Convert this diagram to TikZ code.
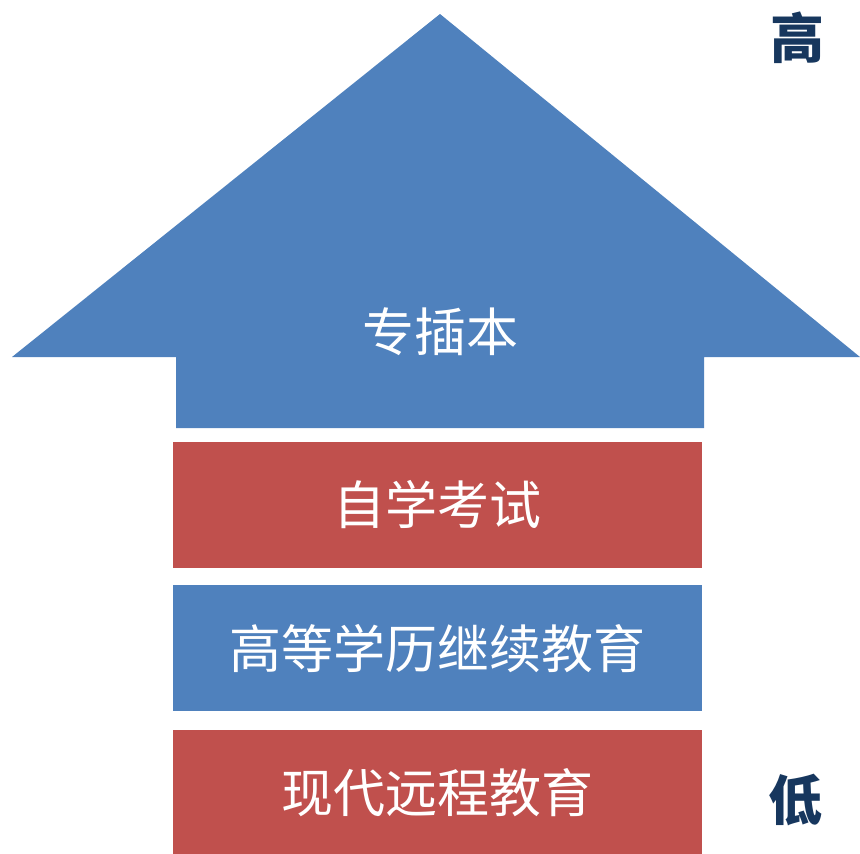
\documentclass[tikz,border=0pt]{standalone}
\usepackage{fontspec}
\usepackage{xcolor}
\usetikzlibrary{positioning}
\newfontfamily\cjk{Noto Sans CJK SC}
\definecolor{levelblue}{HTML}{4F81BD}
\definecolor{levelred}{HTML}{C0504D}
\definecolor{levelnavy}{HTML}{17375E}

\begin{document}
\begin{tikzpicture}[
    x=1pt, y=-1pt,
    node distance=17pt,
    every node/.style={font=\cjk\fontsize{52}{60}\selectfont},
    box/.style={rectangle, minimum width=529pt, minimum height=126pt, inner sep=0pt, align=center, text=white},
    mark label/.style={font=\cjk\bfseries\fontsize{54}{60}\selectfont, text=levelnavy}
  ]
    \useasboundingbox (0,0) rectangle (860,854);
    \fill[levelblue] (440,14) -- (860,357) -- (704,357) -- (704,428) -- (176,428) -- (176,357) -- (12,357) -- cycle;
    \node[text=white] (top) at (440,332) {专插本};

    \node[box, fill=levelred] (self) at (437.5,505) {自学考试};
    \node[box, fill=levelblue, below=of self] (cont) {高等学历继续教育};
    \node[box, fill=levelred, below=18pt of cont] (remote) {现代远程教育};

    \node[mark label] (high) at (797,38) {高};
    \node[mark label] (low) at (795,800) {低};
  \end{tikzpicture}
\end{document}
